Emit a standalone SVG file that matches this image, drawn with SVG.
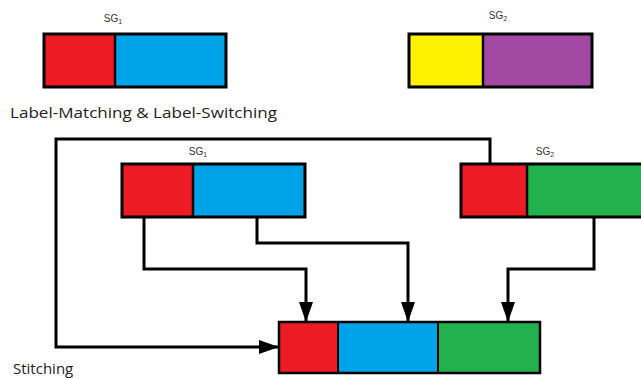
<svg xmlns="http://www.w3.org/2000/svg" width="641" height="379" viewBox="0 0 641 379">
<style>
.box{stroke:#000;stroke-width:3}
.div{stroke:#000;stroke-width:2.5}
.sg{font-family:"Liberation Sans",Arial,sans-serif;font-size:10px;fill:#333}
.sub{font-size:7px}
.cap{font-family:"Open Sans","Noto Sans",sans-serif;font-size:15px;fill:#222}
.con{fill:none;stroke:#000;stroke-width:3}
</style>
<defs>
<marker id="ah" viewBox="0 0 20 14" refX="20" refY="7" markerWidth="20" markerHeight="14" markerUnits="userSpaceOnUse" orient="auto">
<path d="M0,0 L20,7 L0,14 Z" fill="#000"/>
</marker>
</defs>
<rect width="641" height="379" fill="#fff"/>
<g id="top-sg1">
<text class="sg" x="113" y="22" text-anchor="middle">SG<tspan class="sub" dy="2">1</tspan></text>
<rect x="44" y="34" width="71" height="53" fill="#ED1C24"/>
<rect x="115" y="34" width="111" height="53" fill="#00A2E8"/>
<rect x="44" y="34" width="182" height="53" fill="none" class="box"/>
<line x1="115" y1="34" x2="115" y2="87" class="div"/>
</g>
<g id="top-sg2">
<text class="sg" x="498" y="19" text-anchor="middle">SG<tspan class="sub" dy="2">2</tspan></text>
<rect x="409" y="34" width="74" height="53" fill="#FFF200"/>
<rect x="483" y="34" width="109" height="53" fill="#A349A4"/>
<rect x="409" y="34" width="183" height="53" fill="none" class="box"/>
<line x1="483" y1="34" x2="483" y2="87" class="div"/>
</g>
<text class="cap" x="10" y="118" textLength="267" lengthAdjust="spacingAndGlyphs">Label-Matching &amp; Label-Switching</text>
<g id="bottom-sg1">
<text class="sg" x="198" y="155" text-anchor="middle">SG<tspan class="sub" dy="2">1</tspan></text>
<rect x="122" y="164" width="71" height="53" fill="#ED1C24"/>
<rect x="193" y="164" width="112" height="53" fill="#00A2E8"/>
<rect x="122" y="164" width="183" height="53" fill="none" class="box"/>
<line x1="193" y1="164" x2="193" y2="217" class="div"/>
</g>
<g id="bottom-sg2">
<text class="sg" x="545" y="155" text-anchor="middle">SG<tspan class="sub" dy="2">2</tspan></text>
<rect x="461" y="164" width="66" height="53" fill="#ED1C24"/>
<rect x="527" y="164" width="116" height="53" fill="#22B14C"/>
<rect x="461" y="164" width="185" height="53" fill="none" class="box"/>
<line x1="527" y1="164" x2="527" y2="217" class="div"/>
</g>
<g id="stitched">
<rect x="279" y="322" width="59" height="51" fill="#ED1C24"/>
<rect x="338" y="322" width="100" height="51" fill="#00A2E8"/>
<rect x="438" y="322" width="102" height="51" fill="#22B14C"/>
<rect x="279" y="322" width="261" height="51" fill="none" stroke="#000" stroke-width="2.5"/>
<line x1="338" y1="322" x2="338" y2="373" stroke="#000" stroke-width="2"/>
<line x1="438" y1="322" x2="438" y2="373" stroke="#000" stroke-width="2"/>
</g>
<g id="connectors">
<path class="con" d="M490,164 V139 H56 V347 H279" marker-end="url(#ah)"/>
<path class="con" d="M144,217 V269 H306 V322" marker-end="url(#ah)"/>
<path class="con" d="M257,217 V243 H408 V322" marker-end="url(#ah)"/>
<path class="con" d="M594,217 V269 H508 V322" marker-end="url(#ah)"/>
</g>
<text class="cap" x="13" y="374">Stitching</text>
</svg>
